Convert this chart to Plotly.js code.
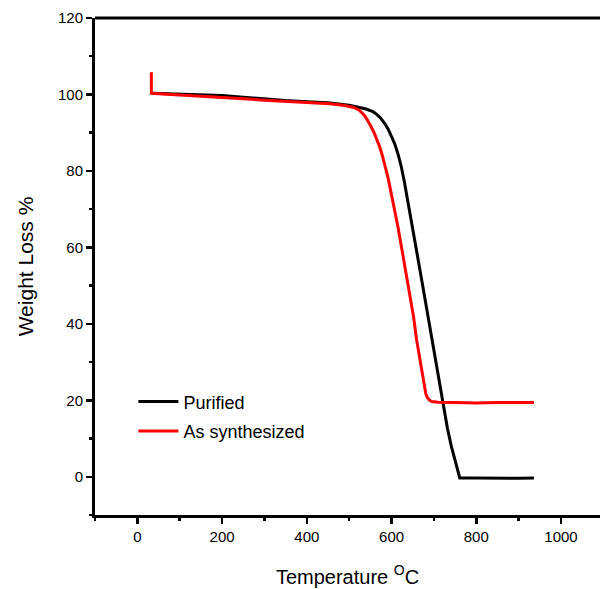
<!DOCTYPE html>
<html>
<head>
<meta charset="utf-8">
<script src="https://cdn.plot.ly/plotly-3.0.1.min.js"></script>
<style>html,body{margin:0;padding:0;overflow:hidden;background:#fff}</style>
</head>
<body>
<div id="chart" style="width:600px;height:589px"></div>
<script>
// Purified sample
const purifiedT = [35, 100, 150, 200, 250, 300, 350, 400, 450, 500, 520, 540, 556, 565, 575, 584, 592, 600, 607, 615, 623, 630, 638, 647, 660, 673, 685, 696, 710, 722, 732, 741, 750, 756, 761, 800, 850, 900, 936];
const purifiedW = [100.3, 100.1, 99.9, 99.7, 99.3, 98.8, 98.4, 98.1, 97.8, 97.2, 96.8, 96.2, 95.5, 94.8, 93.7, 92.4, 90.9, 89.0, 87.2, 84.5, 81.1, 77.3, 72.5, 66.8, 58.5, 50.3, 42.7, 35.8, 27.0, 18.6, 12.6, 8.0, 4.0, 1.8, -0.3, -0.3, -0.4, -0.4, -0.3];
// As synthesized sample
const synthT = [33, 33, 50, 100, 150, 200, 250, 300, 350, 400, 454, 490, 510, 524, 530, 536, 542, 548, 554, 560, 566, 572, 578, 582, 586, 591, 597, 603, 609, 615, 627, 640, 652, 659, 665, 670, 674, 678, 681, 684, 687, 690, 695, 700, 710, 750, 800, 850, 900, 936];
const synthW = [105.8, 100.3, 100.2, 99.9, 99.6, 99.3, 98.9, 98.5, 98.2, 98.0, 97.6, 97.1, 96.6, 95.9, 95.3, 94.5, 93.5, 92.4, 91.1, 89.7, 88.1, 86.3, 84.1, 82.5, 80.6, 78.5, 75.3, 72.0, 68.7, 65.4, 57.8, 49.5, 41.8, 35.9, 31.8, 28.3, 25.5, 22.8, 21.6, 20.8, 20.3, 20.0, 19.7, 19.6, 19.5, 19.4, 19.3, 19.4, 19.3, 19.4];

const seriesNames = ["Purified", "As synthesized"];
const xTitle = "Temperature <sup>O</sup>C";
const yTitle = "Weight Loss %";

const font = "Arial, 'Liberation Sans', sans-serif";

const traces = [
  {x: purifiedT, y: purifiedW, type: "scatter", mode: "lines", name: seriesNames[0], legendgroup: "a",
   line: {color: "#000000", width: 3}},
  {x: synthT, y: synthW, type: "scatter", mode: "lines", name: seriesNames[1], legendgroup: "b",
   line: {color: "#ff0000", width: 3}}
];

const axisCommon = {
  showgrid: false, zeroline: false, showline: true, linecolor: "#000", linewidth: 3,
  ticks: "outside", ticklen: 6, tickwidth: 2.5, tickcolor: "#000",
  tickfont: {family: font, size: 15, color: "#000"}
};

const layout = {
  width: 600, height: 589,
  margin: {l: 95, r: 0, t: 18, b: 74},
  paper_bgcolor: "#fff", plot_bgcolor: "#fff",
  showlegend: true,
  legend: {x: 0.076, y: 0.265, xanchor: "left", yanchor: "top", tracegroupgap: 3,
    font: {family: font, size: 18, color: "#000"}, bgcolor: "rgba(0,0,0,0)", itemwidth: 40},
  xaxis: Object.assign({}, axisCommon, {
    range: [-100, 1092], dtick: 200, tick0: 0,
    minor: {dtick: 100, ticklen: 3, tickwidth: 2.5, tickcolor: "#000", ticks: "outside"},
    title: {text: xTitle, font: {family: font, size: 20, color: "#000"}, standoff: 26}
  }),
  yaxis: Object.assign({}, axisCommon, {
    range: [-10, 120], dtick: 20, tick0: 0,
    minor: {dtick: 10, ticklen: 3, tickwidth: 2.5, tickcolor: "#000", ticks: "outside"},
    title: {text: yTitle, font: {family: font, size: 21, color: "#000"}, standoff: 19}
  }),
  shapes: [
    {type: "line", xref: "paper", yref: "paper", x0: 0, x1: 1, y0: 1, y1: 1,
     line: {color: "#000", width: 3}}
  ]
};

Plotly.newPlot("chart", traces, layout, {staticPlot: true});
</script>
</body>
</html>
